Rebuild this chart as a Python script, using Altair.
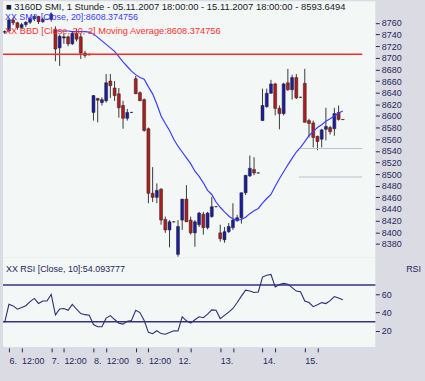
import json
import altair as alt
import pandas as pd
import numpy as np

# ---------------- data ----------------
idx = list(range(81))
opens = [8744, 8746, 8765, 8760, 8752, 8757, 8761, 8767, 8771, 8762,
         8766, 8766, 8749, 8717, 8734, 8736, 8724, 8742, 8736, 8708,
         8705, 8606, 8630, 8623, 8626, 8660, 8648, 8638, 8618, 8596,
         8606, 8664, 8640, 8628, 8578, 8467, 8460, 8474, 8422, 8404,
         8418, 8362, 8421, 8457, 8421, 8399, 8413, 8431, 8408, 8427,
         8444, 8399, 8387, 8401, 8408, 8420, 8425, 8468, 8497, 8508,
         8502, 8592, 8616, 8639, 8655, 8613, 8604, 8657, 8645, 8666,
         8632, 8656, 8592, 8588, 8565, 8560, 8577, 8580, 8578, 8606,
         8594]
highs = [8747, 8768, 8769, 8762, 8760, 8763, 8770, 8775, 8772, 8769,
         8767, 8778, 8754, 8740, 8741, 8738, 8745, 8750, 8742, 8712,
         8707, 8636, 8631, 8632, 8672, 8672, 8660, 8648, 8626, 8612,
         8607, 8669, 8642, 8630, 8580, 8512, 8484, 8476, 8427, 8421,
         8419, 8421, 8457, 8481, 8427, 8421, 8435, 8435, 8435, 8461,
         8445, 8413, 8409, 8416, 8450, 8430, 8468, 8498, 8532, 8529,
         8503, 8647, 8647, 8662, 8657, 8618, 8657, 8681, 8671, 8672,
         8633, 8681, 8595, 8592, 8566, 8578, 8614, 8583, 8614, 8618,
         8594]
lows = [8741, 8744, 8756, 8748, 8749, 8753, 8758, 8763, 8758, 8760,
        8765, 8762, 8694, 8686, 8724, 8720, 8722, 8728, 8698, 8700,
        8704, 8592, 8589, 8618, 8623, 8631, 8626, 8597, 8578, 8592,
        8605, 8638, 8626, 8573, 8450, 8452, 8450, 8413, 8399, 8374,
        8417, 8358, 8404, 8418, 8396, 8375, 8409, 8396, 8405, 8425,
        8443, 8384, 8382, 8399, 8404, 8418, 8415, 8464, 8495, 8498,
        8501, 8592, 8614, 8638, 8601, 8577, 8601, 8643, 8628, 8629,
        8631, 8589, 8563, 8546, 8541, 8546, 8558, 8568, 8566, 8592,
        8593]
closes = [8745, 8765, 8760, 8752, 8757, 8761, 8767, 8771, 8762, 8766,
          8766, 8775, 8715, 8737, 8736, 8724, 8742, 8732, 8708, 8704,
          8706, 8635, 8627, 8628, 8657, 8652, 8635, 8614, 8596, 8606,
          8606, 8638, 8626, 8575, 8467, 8460, 8472, 8421, 8404, 8418,
          8418, 8410, 8457, 8418, 8399, 8418, 8433, 8408, 8433, 8444,
          8444, 8389, 8401, 8410, 8421, 8425, 8468, 8498, 8510, 8502,
          8502, 8618, 8639, 8655, 8613, 8604, 8655, 8645, 8666, 8631,
          8632, 8589, 8587, 8563, 8556, 8576, 8582, 8573, 8604, 8594,
          8593.65]

sma_idx = list(range(12, 81))
sma = [8746, 8746, 8746, 8746, 8745, 8745, 8745, 8745, 8744, 8741,
       8735, 8729, 8723, 8717, 8711, 8702, 8693, 8685, 8677, 8671,
       8666, 8663, 8650, 8638, 8620, 8600, 8587, 8575, 8560, 8548,
       8538, 8528, 8518, 8505, 8496, 8485, 8472, 8465, 8452, 8443,
       8435, 8428, 8423, 8421, 8422, 8426, 8432, 8437, 8441, 8450,
       8458, 8465, 8479, 8492, 8504, 8516, 8527, 8538, 8546, 8556,
       8566, 8573, 8580, 8585, 8591, 8595, 8600, 8605, 8608.37]

rsi = [29.3, 49.1, 47.3, 43.7, 45.5, 47.5, 52.0, 55.5, 50.0, 52.7,
       52.7, 59.9, 37.6, 44.0, 44.5, 42.5, 49.0, 43.7, 39.0, 37.8,
       37.2, 27.0, 24.6, 24.6, 34.0, 36.8, 32.5, 28.5, 27.5, 30.5,
       31.5, 42.6, 40.1, 31.5, 18.5, 17.0, 20.3, 17.2, 16.5, 18.5,
       20.2, 20.0, 35.4, 31.1, 28.5, 32.2, 35.5, 34.5, 38.3, 43.0,
       42.6, 33.5, 37.0, 40.5, 44.5, 51.0, 58.0, 64.5, 63.5, 62.0,
       62.5, 78.7, 80.8, 81.6, 68.0, 70.5, 71.8, 71.0, 67.2, 63.5,
       62.8, 52.7, 51.0, 46.5, 48.5, 50.9, 49.9, 53.0, 57.5, 56.0,
       54.09]

price_ticks = list(range(8380, 8761, 20))
rsi_ticks = [20, 40, 60]
tick_idx = [1, 4, 11, 14, 21, 24, 31, 34, 41, 44, 51, 54, 61, 64, 71, 74]
tick_labels = ["6.", "12:00", "7.", "12:00", "8.", "12:00", "9.", "12:00",
               "12.", "", "13.", "", "14.", "", "15.", ""]

# horizontal levels: (name, start index, end index, price, colour)
level_names = ["red", "gray1", "gray2"]
level_start = [-0.41, 70.0, 69.6]
level_end = [84.6, 84.6, 84.6]
level_price = [8706, 8544, 8495]
level_color = ["#ff2828", "#c0c0ca", "#c0c0ca"]
level_width = [1.4, 1.2, 1.2]
rsi_levels = [70, 30]

title_txt = "\u25a0 3160D  SMI, 1 Stunde - 05.11.2007 18:00:00 - 15.11.2007 18:00:00 - 8593.6494"
sma_txt = "XX SMA [Close, 20]:8608.374756"
bbd_txt = "XX BBD [Close, 20, 2] Moving Average:8608.374756"
rsi_txt = "XX RSI [Close, 10]:54.093777"

# ---------------- styling ----------------
FONT = "Liberation Sans"
FS = 9
NAVY = "#26265e"
X_DOMAIN = [-0.41, 87.7]
P_DOMAIN = [8356.6, 8797.0]
R_DOMAIN = [2.7, 100]
W = 375

df = pd.DataFrame(dict(i=idx, o=opens, h=highs, l=lows, c=closes))
df["dir"] = np.where(df.c >= df.o, "up", "down")

xs = alt.Scale(domain=X_DOMAIN, nice=False, zero=False, padding=0)
ys = alt.Scale(domain=P_DOMAIN, nice=False, zero=False, padding=0)
rs = alt.Scale(domain=R_DOMAIN, nice=False, zero=False, padding=0)

axis_style = dict(orient="right", domain=False, grid=False, tickSize=4,
                  tickColor=NAVY, labelColor=NAVY, labelFont=FONT,
                  labelFontSize=FS, labelPadding=2, title=None,
                  labelOverlap=False, format="d", tickCount=40)
p_axis = alt.Axis(values=price_ticks, **axis_style)
r_axis = alt.Axis(values=rsi_ticks, **axis_style)
lab_expr = f"{json.dumps(tick_labels)}[indexof({json.dumps(tick_idx)}, datum.value)]"
x_axis = alt.Axis(orient="bottom", values=tick_idx, labelExpr=lab_expr,
                  domain=False, grid=False, tickSize=4, tickColor=NAVY,
                  labelColor=NAVY, labelFont=FONT, labelFontSize=FS,
                  labelAlign="left", labelPadding=5, labelOverlap=False,
                  labelFlush=False, title=None, offset=1)

base = alt.Chart(df)
wick = base.mark_rule(strokeWidth=1).encode(
    x=alt.X("i:Q", scale=xs, axis=None),
    y=alt.Y("l:Q", scale=ys, axis=p_axis),
    y2="h:Q",
    color=alt.value("#3a3a3a"),
)
body = base.mark_bar(size=3, stroke="#222222", strokeWidth=0.5).encode(
    x=alt.X("i:Q", scale=xs, axis=None),
    y=alt.Y("o:Q", scale=ys, axis=p_axis),
    y2="c:Q",
    color=alt.Color("dir:N", scale=alt.Scale(domain=["up", "down"],
                                             range=["#1c1ca0", "#b01c1c"]),
                    legend=None),
)
sma_df = pd.DataFrame({"i": sma_idx, "v": sma})
sma_line = alt.Chart(sma_df).mark_line(strokeWidth=1.2).encode(
    x=alt.X("i:Q", scale=xs, axis=None), y=alt.Y("v:Q", scale=ys, axis=p_axis),
    color=alt.value("#3c3cff"))

lvl_rows = []
for n, a, b, p, col, sw in zip(level_names, level_start, level_end,
                               level_price, level_color, level_width):
    lvl_rows.append({"n": n, "i": a, "p": p, "col": col, "sw": sw})
    lvl_rows.append({"n": n, "i": b, "p": p, "col": col, "sw": sw})
lvl_df = pd.DataFrame(lvl_rows)
lvl_lines = alt.Chart(lvl_df).mark_line().encode(
    x=alt.X("i:Q", scale=xs, axis=None),
    y=alt.Y("p:Q", scale=ys, axis=p_axis),
    detail="n:N",
    stroke=alt.Stroke("col:N", scale=None, legend=None),
    strokeWidth=alt.StrokeWidth("sw:Q", scale=None, legend=None),
)

def label(txt, px, py, color, align="left", size=FS):
    return alt.Chart(pd.DataFrame({"t": [txt]})).mark_text(
        align=align, baseline="middle", font=FONT, fontSize=size, color=color
    ).encode(x=alt.value(px), y=alt.value(py), text="t:N")

main = alt.layer(
    wick, body, sma_line, lvl_lines,
    label(title_txt, 3, 6, "#1a1a2a", size=9.5),
    label(sma_txt, 2, 16, "#3a3aff"),
    label(bbd_txt, 2, 30, "#ff3030", size=9.3),
).properties(width=W, height=258)

rsi_df = pd.DataFrame({"i": idx, "r": rsi})
rsi_lvl = alt.Chart(pd.DataFrame({"y": rsi_levels})).mark_rule(strokeWidth=1.5).encode(
    y=alt.Y("y:Q", scale=rs, axis=r_axis), color=alt.value("#34347e"))
rsi_line = alt.Chart(rsi_df).mark_line(strokeWidth=1.1).encode(
    x=alt.X("i:Q", scale=xs, axis=x_axis),
    y=alt.Y("r:Q", scale=rs, axis=r_axis),
    color=alt.value("#2e2e78"),
)
rsi_panel = alt.layer(
    rsi_lvl, rsi_line,
    label(rsi_txt, 3, 12, NAVY),
    label("RSI", 421, 12, NAVY, align="right"),
).properties(width=W, height=90)

chart = alt.vconcat(main, rsi_panel, spacing=0).configure(
    background="#dadbe3",
    padding={"left": 0, "top": 0, "right": 4, "bottom": 14},
).configure_view(fill="#f3f7f5", stroke=None)

chart.save("out.html", embed_options={"renderer": "svg", "actions": False})
